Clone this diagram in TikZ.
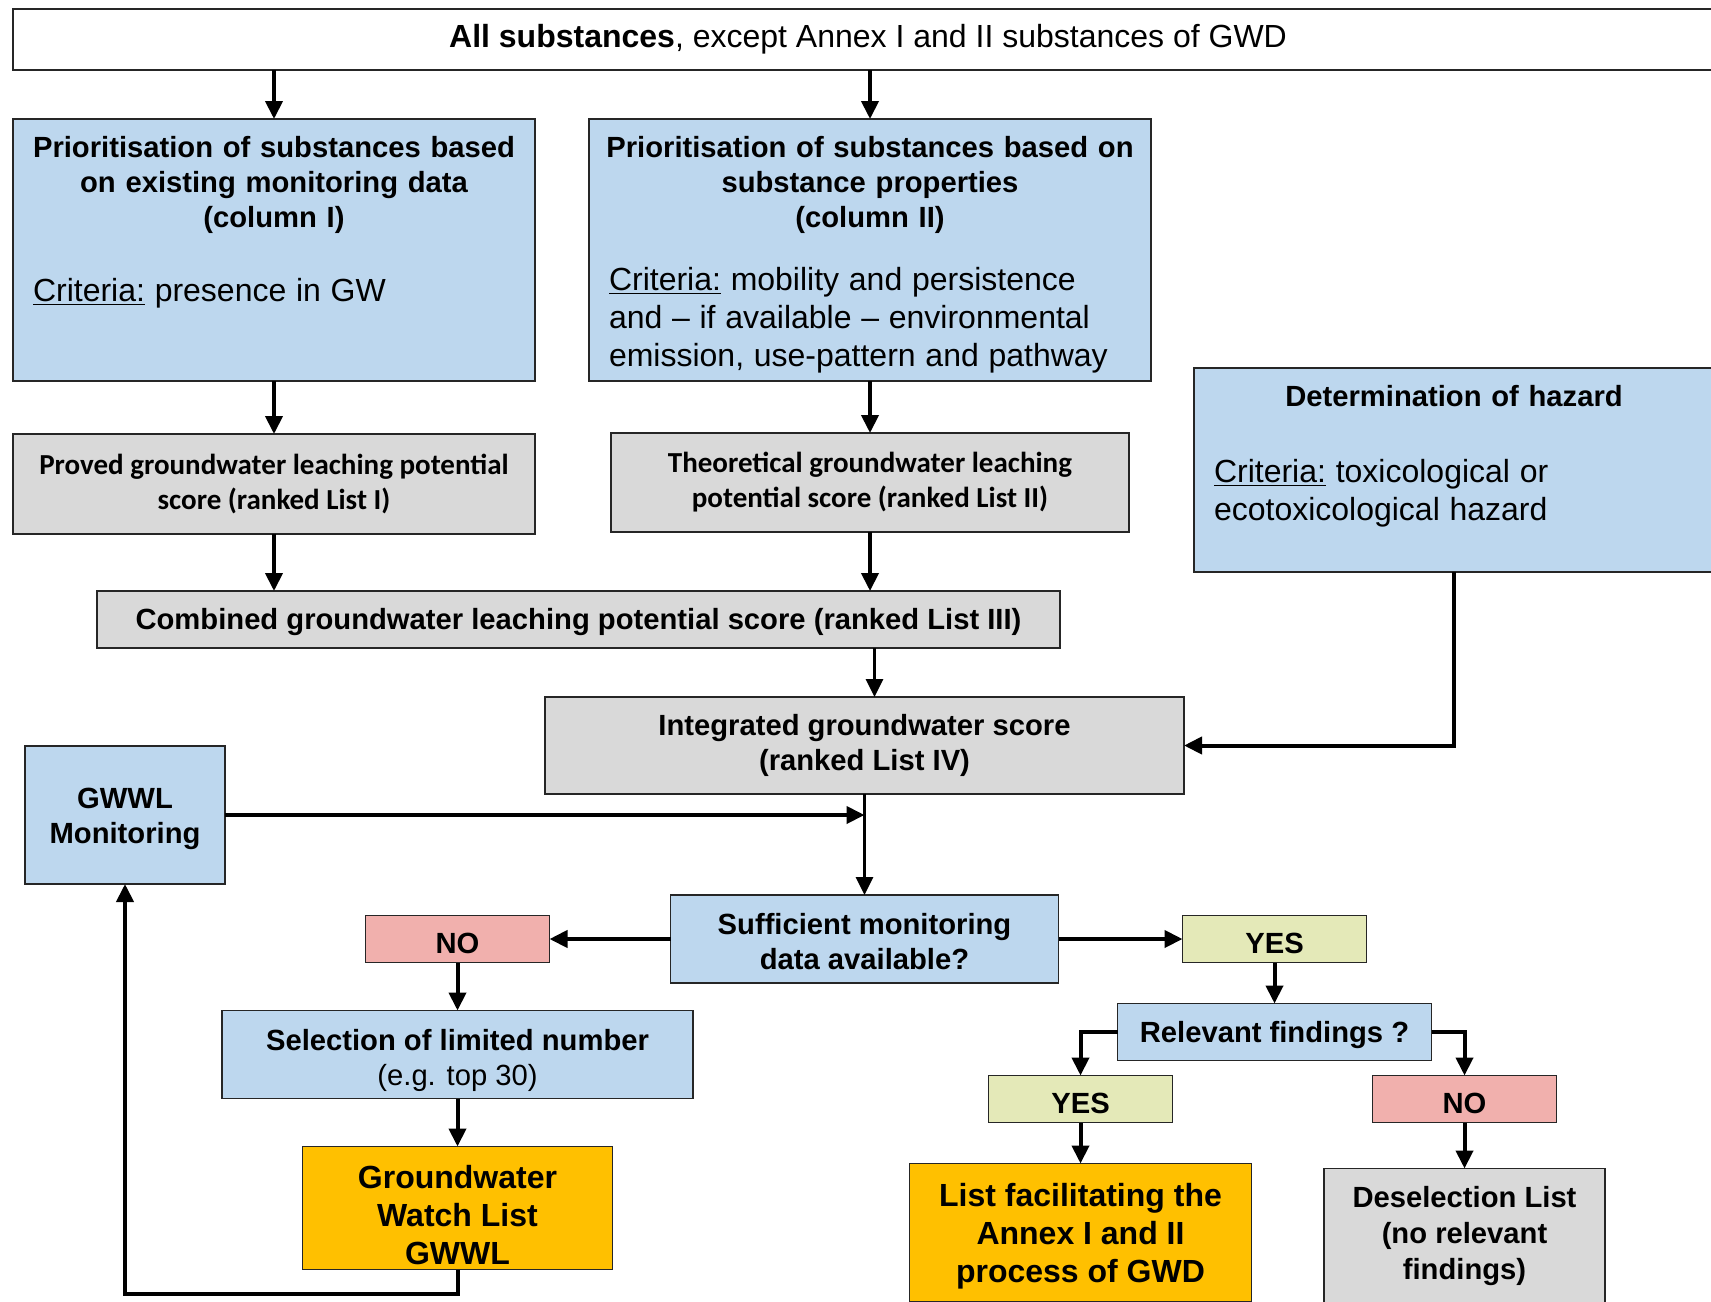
\documentclass[tikz,border=0pt]{standalone}
\usepackage{fontspec}
\setmainfont{Liberation Sans}
\newfontfamily\calibri{Carlito}
\usepackage{xcolor}
\definecolor{lightblue}{HTML}{BDD7EE}
\definecolor{lightgray}{HTML}{D9D9D9}
\definecolor{lightred}{HTML}{F1B0AD}
\definecolor{lightolive}{HTML}{E4E9B8}
\definecolor{amber}{HTML}{FFC000}
\usetikzlibrary{arrows.meta,positioning}
\newcommand{\crit}{\underline{Criteria:}}
\newcommand{\tdrop}[1]{\rule{0pt}{#1}}

\begin{document}
\begin{tikzpicture}[
  box/.style={draw=black!85,line width=0.8pt,align=center,inner sep=0pt,outer sep=0pt,font=\fontsize{14.6}{17.5}\selectfont\bfseries},
  textdrop/.style={execute at begin node={\rule{0pt}{#1}}},
  panel/.style={box,fill=lightblue,align=left,inner xsep=10pt,text height=19pt},
  query/.style={box,fill=lightblue},
  score/.style={box,fill=lightgray},
  calscore/.style={score,font=\calibri\fontsize{14.5}{17.5}\selectfont\bfseries},
  yesbox/.style={box,fill=lightolive,minimum width=92pt,minimum height=23.5pt,textdrop=14.5pt},
  nobox/.style={box,fill=lightred,minimum width=92pt,minimum height=23.5pt,textdrop=14.5pt},
  result/.style={box,fill=amber,font=\fontsize{16}{19}\selectfont\bfseries},
  arr/.style={-{Triangle[length=9pt,width=8.5pt]},line width=2pt}]
\useasboundingbox (0,0) rectangle (855.5pt,-650.5pt);
\clip (0,0) rectangle (855.5pt,-650.5pt);
\node[box,minimum width=855pt,minimum height=30.5pt,font=\fontsize{16}{19}\selectfont] (all) at (434pt,-19.75pt) {\textbf{All substances}, except Annex I and II substances of GWD};
\node[panel,text width=241pt,text depth=112pt,below=24.5pt of all.south west,anchor=north west] (colI) {{\centering Prioritisation of substances based\\on existing monitoring data\\(column I)\par}\vspace{18pt}{\fontsize{16}{19}\selectfont\mdseries\crit{} presence in GW\par}};
\node[panel,inner xsep=8pt,text width=265pt,text depth=112pt,right=27pt of colI.north east,anchor=north west] (colII) {{\centering Prioritisation of substances based on\\substance properties\\(column II)\par}\vspace{12.5pt}{\fontsize{16}{19}\selectfont\mdseries\hspace*{2pt}\crit{} mobility and persistence\\\hspace*{2pt}and -- if available -- environmental\\\hspace*{2pt}emission, use-pattern and pathway\par}};
\node[calscore,minimum width=261pt,minimum height=50pt,below=26.5pt of colI] (proved) {Proved groundwater leaching potential\\score (ranked List I)};
\node[calscore,minimum width=259pt,minimum height=49.5pt,below=26pt of colII] (theo) {Theoretical groundwater leaching\\potential score (ranked List II)};
\node[panel,text width=240pt,text depth=83pt,below right=124.5pt and 21.5pt of colII.north east,anchor=north west] (haz) {{\centering Determination of hazard\par}\vspace{19pt}{\fontsize{16}{19}\selectfont\mdseries\crit{} toxicological or\\ecotoxicological hazard\par}};
\node[score,minimum width=481.5pt,minimum height=28.5pt,textdrop=13.5pt,below right=28.5pt and 42pt of proved.south west,anchor=north west] (comb) {Combined groundwater leaching potential score (ranked List III)};
\node[score,minimum width=319.5pt,minimum height=48.5pt,below=24.5pt of comb,xshift=143pt] (integ) {Integrated groundwater score\\(ranked List IV)};
\node[query,minimum width=100pt,minimum height=69pt,below right=106pt and 6pt of proved.south west,anchor=north west] (mon) {\tdrop{13.7pt}GWWL\\Monitoring};
\node[query,minimum width=194pt,minimum height=44pt,below=50.5pt of integ] (suff) {\tdrop{12.7pt}Sufficient monitoring\\data available?};
\node[nobox,left=60.5pt of suff] (no1) {NO};
\node[yesbox,right=62pt of suff] (yes1) {YES};
\node[query,minimum width=235.5pt,minimum height=44pt,below=24pt of no1] (sel) {\tdrop{16.7pt}Selection of limited number\\{\mdseries (e.g. top 30)}};
\node[result,minimum width=155pt,minimum height=61.5pt,below=24pt of sel] (gwwl) {\tdrop{18.9pt}Groundwater\\Watch List\\GWWL};
\node[query,minimum width=157pt,minimum height=28.5pt,textdrop=13.5pt,below=20.5pt of yes1] (rel) {Relevant findings ?};
\node[yesbox,below=7.5pt of rel.south west,xshift=-18.5pt] (yes2) {YES};
\node[nobox,below=7.5pt of rel.south east,xshift=16.5pt] (no2) {NO};
\node[result,minimum width=171pt,minimum height=69pt,below=20.5pt of yes2] (list) {\tdrop{15.7pt}List facilitating the\\Annex I and II\\process of GWD};
\node[score,minimum width=140.5pt,minimum height=67.5pt,below=23pt of no2,font=\fontsize{14.6}{18}\selectfont\bfseries] (desel) {Deselection List\\(no relevant\\findings)};
\coordinate (cin) at ([xshift=5pt]integ.north);
\draw[arr] (all.south -| colI.north) -- (colI.north);
\draw[arr] (all.south -| colII.north) -- (colII.north);
\draw[arr] (colI) -- (proved);
\draw[arr] (colII) -- (theo);
\draw[arr] (proved.south) -- (proved.south |- comb.north);
\draw[arr] (theo.south) -- (theo.south |- comb.north);
\draw[arr,line width=1.5pt] (comb.south -| cin) -- (cin);
\draw[arr] (haz.south) |- (integ.east);
\draw[arr,line width=1.5pt] (integ) -- (suff);
\draw[arr] (mon.east) -- (mon.east -| integ.south);
\draw[arr] (suff) -- (no1);
\draw[arr] (suff) -- (yes1);
\draw[arr] (no1) -- (sel);
\draw[arr] (sel) -- (gwwl);
\draw[arr] (gwwl.south) -- ++(0,-12pt) -| (mon.south);
\draw[arr] (yes1) -- (rel);
\draw[arr] (rel.west) -| (yes2.north);
\draw[arr] (rel.east) -| (no2.north);
\draw[arr] (yes2) -- (list);
\draw[arr] (no2) -- (desel);
\end{tikzpicture}
\end{document}
